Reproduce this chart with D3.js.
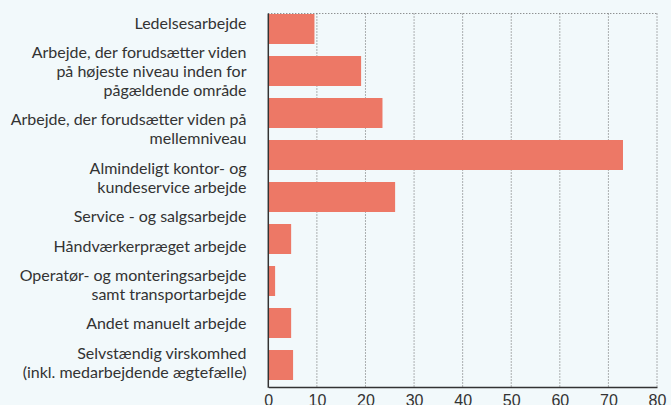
<!DOCTYPE html>
<html>
<head>
<meta charset="utf-8">
<script src="https://cdn.jsdelivr.net/npm/d3@7"></script>
<style>
  html, body { margin: 0; padding: 0; background: #f2f9fb; }
  svg { display: block; font-family: Lato, "Open Sans", sans-serif; }
  .cat { fill: #333; font-size: 16px; }
  .tick text { fill: #333; font-size: 16px; }
</style>
</head>
<body>
<svg id="chart" width="671" height="405"></svg>
<script>
const categories = [
  ["Ledelsesarbejde"],
  ["Arbejde, der forudsætter viden", "på højeste niveau inden for", "pågældende område"],
  ["Arbejde, der forudsætter viden på", "mellemniveau"],
  ["Almindeligt kontor- og", "kundeservice arbejde"],
  ["Service - og salgsarbejde"],
  ["Håndværkerpræget arbejde"],
  ["Operatør- og monteringsarbejde", "samt transportarbejde"],
  ["Andet manuelt arbejde"],
  ["Selvstændig virskomhed", "(inkl. medarbejdende ægtefælle)"]
];
const values = [9.5, 19.1, 23.5, 73.0, 26.1, 4.7, 1.4, 4.7, 5.1];
const xTicks = [0, 10, 20, 30, 40, 50, 60, 70, 80];

const svg = d3.select("#chart");
const plotLeft = 268.3, plotRight = 657, plotTop = 13.5, plotBottom = 387;

const x = d3.scaleLinear().domain([0, 80]).range([plotLeft, plotRight]);
const y = d3.scaleBand()
  .domain(d3.range(values.length))
  .range([14, 380])
  .paddingInner(0.286)
  .paddingOuter(0);

// grid lines
svg.append("g")
  .selectAll("line")
  .data(xTicks.slice(1))
  .join("line")
  .attr("x1", d => x(d)).attr("x2", d => x(d))
  .attr("y1", plotTop).attr("y2", plotBottom)
  .attr("stroke", "#666")
  .attr("stroke-width", 1)
  .attr("stroke-dasharray", "1,2");

svg.append("line")
  .attr("x1", plotLeft).attr("x2", plotRight)
  .attr("y1", plotTop).attr("y2", plotTop)
  .attr("stroke", "#666")
  .attr("stroke-dasharray", "1,2");

// bars
svg.append("g")
  .selectAll("rect")
  .data(values)
  .join("rect")
  .attr("x", x(0))
  .attr("y", (d, i) => y(i))
  .attr("width", d => x(d) - x(0))
  .attr("height", y.bandwidth())
  .attr("fill", "#ed7866");

// bottom axis
const xAxis = svg.append("g")
  .attr("class", "x-axis")
  .attr("transform", `translate(0,${plotBottom})`)
  .call(d3.axisBottom(x).tickValues(xTicks).tickSize(0).tickPadding(7));
xAxis.select(".domain").attr("stroke", "#333").attr("stroke-width", 1.5);
xAxis.selectAll(".tick text").attr("dy", "0.75em");

// left axis line
svg.append("line")
  .attr("x1", plotLeft).attr("x2", plotLeft)
  .attr("y1", plotTop).attr("y2", plotBottom + 0.75)
  .attr("stroke", "#333")
  .attr("stroke-width", 1.5);

// category labels, flowed from the top
const lineH = 19, groupGap = 29.4;
let cy = 23;
const lines = [];
categories.forEach((cat, gi) => {
  cat.forEach((t, li) => {
    if (gi > 0 || li > 0) cy += li === 0 ? groupGap : lineH;
    lines.push({ t, cy });
  });
});

svg.append("g")
  .selectAll("text")
  .data(lines)
  .join("text")
  .attr("class", "cat")
  .attr("x", 246.5)
  .attr("y", d => d.cy)
  .attr("dy", "0.35em")
  .attr("text-anchor", "end")
  .text(d => d.t);
</script>
</body>
</html>
